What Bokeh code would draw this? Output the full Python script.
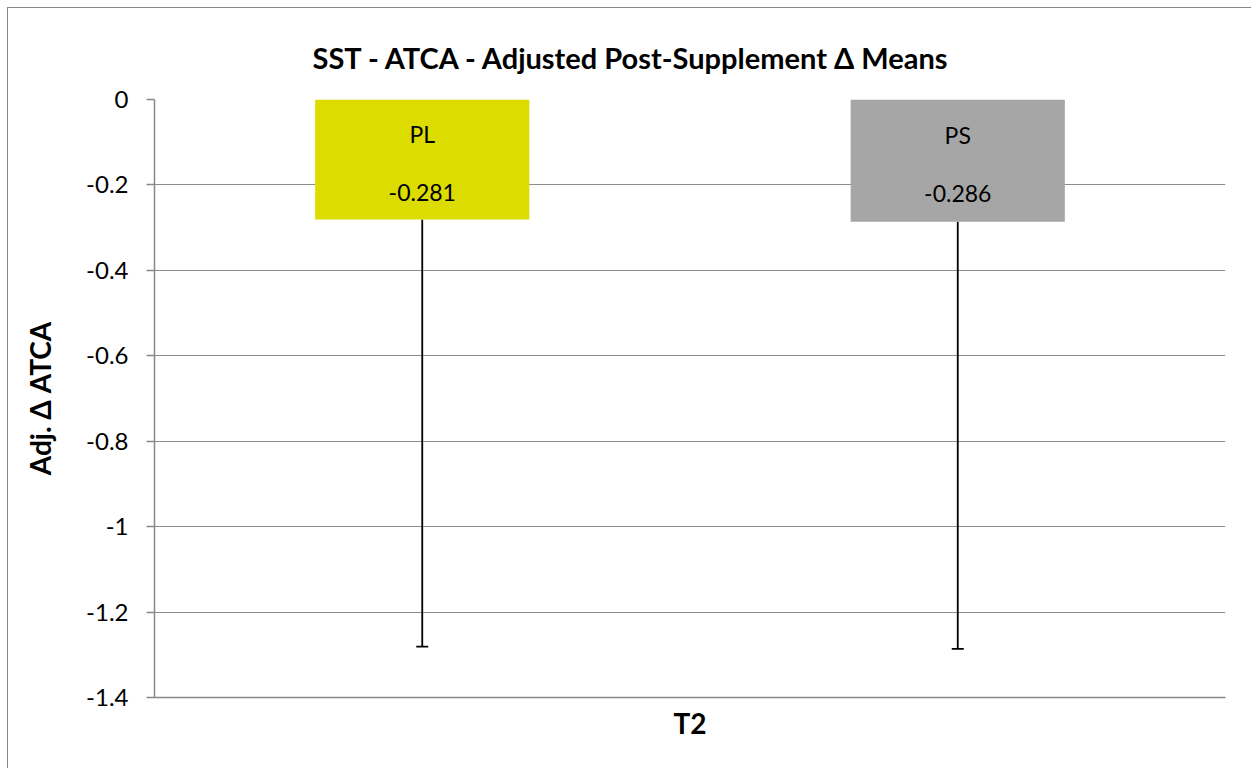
from bokeh.plotting import figure
from bokeh.models import (ColumnDataSource, Range1d, FixedTicker,
                          CustomJSTickFormatter, Whisker, TeeHead)
from bokeh.core.properties import value
from bokeh.embed import file_html
from bokeh.resources import INLINE

# ---- data ----
title_text = "SST - ATCA - Adjusted Post-Supplement \u0394 Means"
group_label = "T2"
y_label = "Adj. \u0394 ATCA"
series = ["PL", "PS"]
means = [-0.281, -0.286]
errors = [1.0, 1.0]
colors = ["#DCDC00", "#A6A6A6"]
y_ticks = [0, -0.2, -0.4, -0.6, -0.8, -1.0, -1.2, -1.4]

FONT = "Lato"

# series slots within the single category group
xpos = [i + 0.5 for i in range(len(series))]

src = ColumnDataSource(dict(
    x=xpos,
    top=means,
    lower=[m - e for m, e in zip(means, errors)],
    upper=means,
    mid=[m / 2 for m in means],
    color=colors,
    name=series,
    val=[f"{m:.3f}" for m in means],
))

p = figure(width=1244, height=761, output_backend="svg", toolbar_location=None,
           x_range=Range1d(0, len(series)),
           y_range=Range1d(y_ticks[-1], y_ticks[0]),
           min_border_left=146, min_border_right=27,
           min_border_top=91, min_border_bottom=72,
           styles={"margin-left": "7px", "margin-top": "7px",
                   "border-left": "1px solid #888888",
                   "border-top": "1px solid #888888"})

p.title.text = title_text
p.title.align = "left"
p.title.offset = 158
p.title.standoff = 50
p.title.text_font = FONT
p.title.text_font_size = "29px"
p.title.text_font_style = "bold"
p.title.text_color = "#000000"

p.outline_line_color = None
p.background_fill_color = "white"
p.border_fill_color = "white"

p.vbar(x="x", top="top", bottom=0, width=0.4, source=src,
       fill_color="color", line_color=None)

w = Whisker(base="x", lower="lower", upper="upper", source=src,
            line_color="black", line_width=1.8, upper_head=None,
            lower_head=TeeHead(size=12, line_color="black", line_width=1.8))
p.add_layout(w)

p.text(x="x", y="mid", text="name", source=src, text_align="center",
       text_baseline="middle", y_offset=-26, text_font=value(FONT),
       text_font_size="23px", text_color="black")
p.text(x="x", y="mid", text="val", source=src, text_align="center",
       text_baseline="middle", y_offset=33, text_font=value(FONT),
       text_font_size="23px", text_color="black")

# y axis
yax = p.yaxis[0]
yax.ticker = FixedTicker(ticks=y_ticks)
yax.formatter = CustomJSTickFormatter(code="var s = tick.toFixed(1); return s.replace(/\\.0$/, '');")
yax.axis_label = y_label
yax.axis_label_text_font = FONT
yax.axis_label_text_font_size = "28px"
yax.axis_label_text_font_style = "bold"
yax.axis_label_text_color = "black"
yax.axis_label_standoff = 26
yax.major_label_text_font = FONT
yax.major_label_text_font_size = "24px"
yax.major_label_text_color = "black"
yax.major_label_standoff = 18
yax.axis_line_color = "#888888"
yax.axis_line_width = 1.5
yax.major_tick_line_color = "#888888"
yax.major_tick_line_width = 1.5
yax.major_tick_in = 0
yax.major_tick_out = 8
yax.minor_tick_line_color = None

# x axis (single group, no tick labels)
xax = p.xaxis[0]
xax.ticker = FixedTicker(ticks=[])
xax.axis_label = group_label
xax.axis_label_text_font = FONT
xax.axis_label_text_font_size = "28px"
xax.axis_label_text_font_style = "bold"
xax.axis_label_text_color = "black"
xax.axis_label_standoff = 8
xax.major_label_standoff = 0
xax.major_tick_line_color = None
xax.minor_tick_line_color = None
xax.axis_line_color = "#888888"
xax.axis_line_width = 1.5

p.xgrid.grid_line_color = None
p.ygrid.grid_line_color = "#8c8c8c"
p.ygrid.grid_line_width = 1.2
p.ygrid.ticker = FixedTicker(ticks=y_ticks)

open("out.html", "w").write(file_html(p, INLINE))
